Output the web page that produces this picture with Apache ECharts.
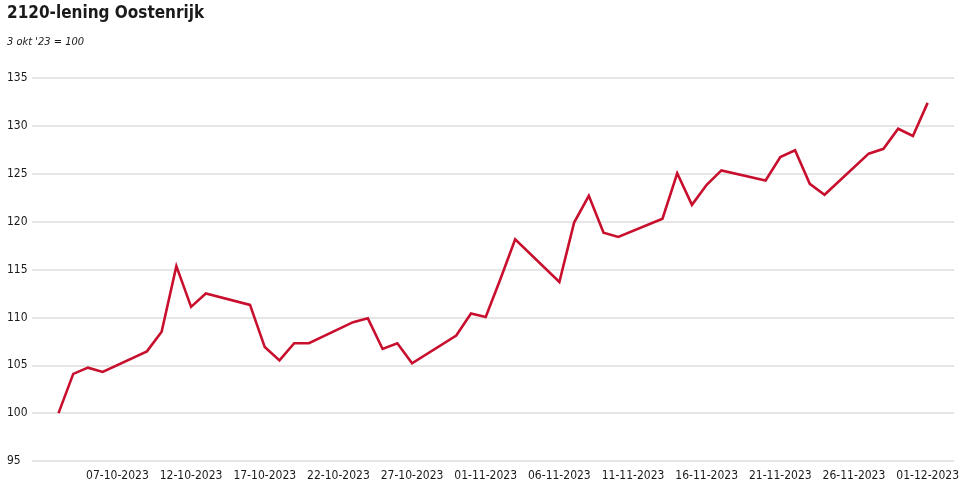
<!DOCTYPE html>
<html>
<head>
<meta charset="utf-8">
<script src="https://cdn.jsdelivr.net/npm/echarts@6/dist/echarts.min.js"></script>
<style>
html,body{margin:0;padding:0;background:#fff;}
#chart{width:962px;height:503px;}
</style>
</head>
<body>
<div id="chart"></div>
<script>
const dates = ['2023-10-03','2023-10-04','2023-10-05','2023-10-06','2023-10-09','2023-10-10','2023-10-11','2023-10-12','2023-10-13',
  '2023-10-16','2023-10-17','2023-10-18','2023-10-19','2023-10-20','2023-10-23','2023-10-24','2023-10-25','2023-10-26','2023-10-27',
  '2023-10-30','2023-10-31','2023-11-01','2023-11-02','2023-11-03','2023-11-06','2023-11-07','2023-11-08','2023-11-09','2023-11-10',
  '2023-11-13','2023-11-14','2023-11-15','2023-11-16','2023-11-17','2023-11-20','2023-11-21','2023-11-22','2023-11-23','2023-11-24',
  '2023-11-27','2023-11-28','2023-11-29','2023-11-30','2023-12-01'];
const values = [100, 104.1, 104.75, 104.3, 106.45, 108.5, 115.35, 111.1, 112.5,
  111.3, 106.9, 105.5, 107.3, 107.3, 109.5, 109.9, 106.7, 107.3, 105.2,
  108.1, 110.4, 110.05, 114.0, 118.15, 113.7, 119.9, 122.7, 118.85, 118.4,
  120.3, 125.05, 121.75, 123.85, 125.35, 124.3, 126.75, 127.45, 123.95, 122.8,
  127.1, 127.6, 129.7, 128.95, 132.4];
const tickLabels = ['07-10-2023','12-10-2023','17-10-2023','22-10-2023','27-10-2023','01-11-2023',
  '06-11-2023','11-11-2023','16-11-2023','21-11-2023','26-11-2023','01-12-2023'];
const yTicks = [95, 100, 105, 110, 115, 120, 125, 130, 135];
const titleText = '2120-lening Oostenrijk';
const subtitleText = "3 okt '23 = 100";

const DAY = 86400000;
function parseIso(s){ const p = s.split('-').map(Number); return Date.UTC(p[0], p[1]-1, p[2]) / DAY; }
function parseNl(s){ const p = s.split('-').map(Number); return Date.UTC(p[2], p[1]-1, p[0]) / DAY; }
const seriesData = dates.map((d, i) => [parseIso(d), values[i]]);
const tickDays = tickLabels.map(parseNl);
const labelMap = {};
tickLabels.forEach((l, i) => { labelMap[tickDays[i]] = l; });

const font = '"DejaVu Sans Condensed","DejaVu Sans",sans-serif';
const chart = echarts.init(document.getElementById('chart'));
chart.setOption({
  animation: false,
  backgroundColor: '#fff',
  title: [
    { text: titleText, left: 2, top: 0,
      textStyle: { fontFamily: font, fontWeight: 'bold condensed', fontSize: 17, color: '#1a1a1a' } },
    { text: subtitleText, left: 2, top: 32,
      textStyle: { fontFamily: font, fontStyle: 'oblique', fontWeight: 'condensed', fontSize: 11, color: '#1a1a1a' } }
  ],
  grid: { left: 32, right: 7, top: 78, bottom: 42, containLabel: false },
  xAxis: {
    type: 'value',
    min: parseIso(dates[0]) - 1.8,
    max: parseIso(dates[dates.length - 1]) + 1.8,
    axisLine: { show: false },
    axisTick: { show: false },
    splitLine: { show: false },
    axisLabel: {
      customValues: tickDays,
      formatter: v => labelMap[v] || '',
      fontFamily: font, fontWeight: 'condensed', fontSize: 12, color: '#1a1a1a', margin: 9
    }
  },
  yAxis: {
    type: 'value',
    min: yTicks[0], max: yTicks[yTicks.length - 1], interval: 5,
    axisLine: { show: false },
    axisTick: { show: false },
    splitLine: { lineStyle: { color: '#dedede', width: 1.5 } },
    axisLabel: { fontFamily: font, fontWeight: 'condensed', fontSize: 12, color: '#1a1a1a', align: 'left', margin: 25 }
  },
  series: [{
    type: 'line',
    data: seriesData,
    showSymbol: false,
    symbol: 'none',
    lineStyle: { color: '#c8102e', width: 2.6, join: 'miter' },
    itemStyle: { color: '#c8102e' }
  }]
});
</script>
</body>
</html>
